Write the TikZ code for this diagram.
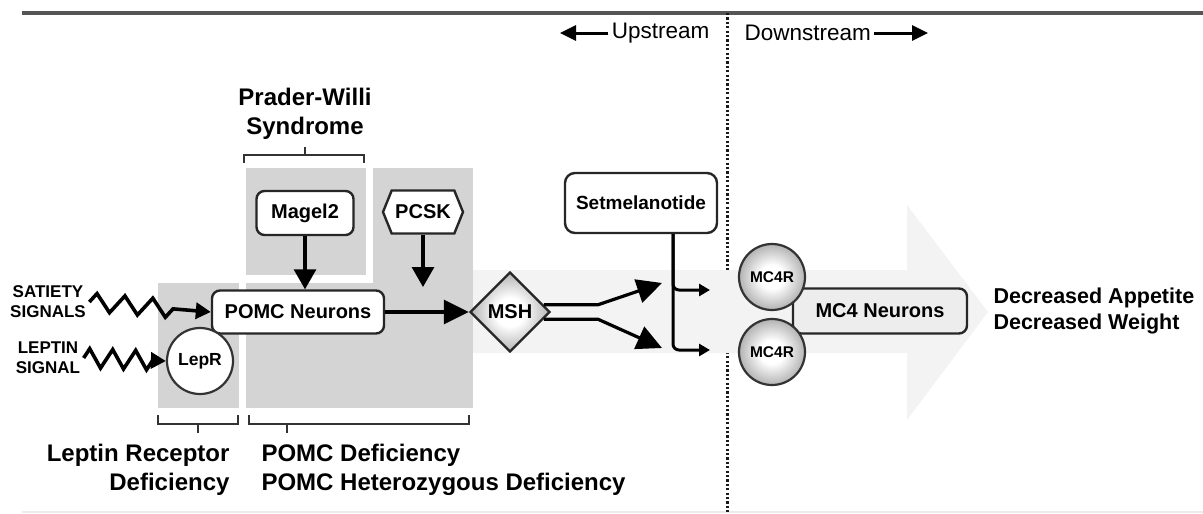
\documentclass[tikz,border=0pt]{standalone}
\usepackage{fontspec}
\setmainfont{Liberation Sans}
\usetikzlibrary{shapes.geometric, shapes.symbols, arrows, arrows.meta, decorations.pathmorphing, positioning}
\definecolor{boxgray}{HTML}{D4D4D4}
\definecolor{bandgray}{HTML}{F3F3F3}
\definecolor{rulegray}{HTML}{555555}
\pgfdeclareradialshading{ballgray}{\pgfpoint{0bp}{0bp}}{color(0bp)=(white); color(9bp)=(white); color(25bp)=(black!30); color(50bp)=(black!30)}
\newcommand{\sizefont}[2]{\fontsize{#1}{#2}\selectfont}
\tikzstyle{box} = [rectangle, rounded corners=8pt, draw=black!85, line width=2.4pt, fill=white, text centered, font=\bfseries\sizefont{20}{24}]
\tikzstyle{hexa} = [signal, signal to=east and west, signal pointer angle=136, draw=black!85, line width=2.4pt, fill=white, minimum width=80pt, minimum height=43pt, inner sep=0pt, font=\bfseries\sizefont{20}{24}]
\tikzstyle{receptor} = [circle, draw=black!80, line width=2.2pt, minimum size=66pt, inner sep=0pt, font=\bfseries\sizefont{15.5}{18}]
\tikzstyle{ligand} = [diamond, draw=black!85, line width=2.4pt, shading=ballgray, minimum size=80pt, inner sep=0pt, font=\bfseries\sizefont{20}{24}]
\tikzstyle{sigtext} = [align=center, font=\bfseries\sizefont{17}{20}]
\tikzstyle{disease} = [font=\bfseries\sizefont{24}{29}]
\tikzstyle{outcome} = [align=left, font=\bfseries\sizefont{21.5}{26}]
\tikzstyle{streamtext} = [font=\sizefont{22.5}{26}]
\tikzstyle{edge} = [line width=3.2pt, -{Triangle[length=25pt, width=24pt]}]
\tikzstyle{dropedge} = [line width=3.2pt, -{Triangle[length=20pt, width=22pt]}]
\tikzstyle{smalledge} = [line width=3pt, -{Triangle[length=11pt, width=12pt]}]
\tikzstyle{streamedge} = [line width=3pt, -{Triangle[length=16pt, width=15pt]}]
\tikzstyle{zig} = [line width=3.6pt, decorate, -{Triangle[length=15pt, width=16pt]}]
\tikzstyle{bracket} = [line width=2.4pt, black!80]

\begin{document}
\begin{tikzpicture}[x=1pt, y=-1pt, node distance=75pt]
\useasboundingbox (0,0) rectangle (1203,514);

% frame and up/down split
\draw [rulegray, line width=3.5pt] (22,13) -- (1203,13);
\draw [black!8, line width=1.5pt] (22,512) -- (1203,512);
\draw [black!90, line width=3pt, dash pattern=on 2.2pt off 2.2pt] (727,13) -- (727,514);

% background arrow and gray areas
\fill [bandgray] (460,270) -- (907,270) -- (907,205) -- (988,312) -- (907,420) -- (907,353) -- (460,353) -- cycle;
\fill [boxgray] (158,283) rectangle (239,408);
\fill [boxgray] (246,168) rectangle (366,275);
\fill [boxgray] (373,168) rectangle (473,408);
\fill [boxgray] (246,283) rectangle (473,408);

\node (0) [box, minimum width=97pt, minimum height=44pt] at (305,213) {Magel2};
\node (1) [hexa] at (423,212) {PCSK};
\node (2) [box, minimum width=172pt, minimum height=43pt] at (298,312) {POMC Neurons};
\node (3) [ligand] at (510,312) {MSH};
\node (4) [receptor, fill=white, font=\bfseries\sizefont{17.5}{20}] at (200,361) {LepR};
\node (5) [sigtext] at (48,302) {SATIETY\\SIGNALS};
\node (6) [sigtext] at (48,358) {LEPTIN\\SIGNAL};
\node (7) [box, rounded corners=10pt, minimum width=152pt, minimum height=60pt, font=\bfseries\sizefont{19}{22}] at (641,203) {Setmelanotide};
\node (10) [box, fill=black!7, minimum width=174pt, minimum height=45pt] at (880,311) {MC4 Neurons};
\node (8) [receptor, shading=ballgray] at (772,277) {MC4R};
\node (9) [receptor, shading=ballgray, below of=8] {MC4R};
\node (11) [outcome, anchor=west] at (990,311) {Decreased Appetite\\Decreased Weight};
\node (12) [streamtext, anchor=east] at (713,33) {Upstream};
\node (13) [streamtext, anchor=west] at (741,33) {Downstream};
\node (14) [disease, align=center] at (305,114) {Prader-Willi\\Syndrome};
\node (15) [disease, align=right, anchor=east] at (233,470) {Leptin Receptor\\Deficiency};
\node (16) [disease, align=left, anchor=west] at (258,470) {POMC Deficiency\\POMC Heterozygous Deficiency};

\coordinate (c0) at (423,287);
\coordinate (c1) at (662,283);
\coordinate (c2) at (662,348);
\coordinate (c3) at (710,290);
\coordinate (c4) at (710,350);
\coordinate (c5) at (560,33);
\coordinate (c6) at (928,33);

\draw [zig, decoration={zigzag, segment length=28pt, amplitude=9pt, post length=30pt}] (5.east) -- (2.west);
\draw [zig, decoration={zigzag, segment length=23pt, amplitude=9.5pt, post length=12pt}] (6.east) -- (4.west);
\draw [dropedge] (0) -- (0 |- 2.north);
\draw [dropedge] (1) -- (c0);
\draw [edge] (2) -- (3);
\draw [edge] (3.12) -- ++(54,0) -- (c1);
\draw [edge] (3.-12) -- ++(54,0) -- (c2);
\draw [smalledge, rounded corners=6pt] ([xshift=32pt]7.south) |- (c3);
\draw [smalledge, rounded corners=6pt] ([xshift=32pt]7.south) |- (c4);
\draw [streamedge] (12) -- (c5);
\draw [streamedge] (13) -- (c6);

% brackets
\draw [bracket] (244,163) -- (244,155) -- (364,155) -- (364,163);
\draw [bracket] (305,155) -- (305,147);
\draw [bracket] (158,415) -- (158,424) -- (238,424) -- (238,415);
\draw [bracket] (198,424) -- (198,433);
\draw [bracket] (249,415) -- (249,424) -- (469,424) -- (469,415);
\draw [bracket] (287,424) -- (287,433);

\end{tikzpicture}
\end{document}
